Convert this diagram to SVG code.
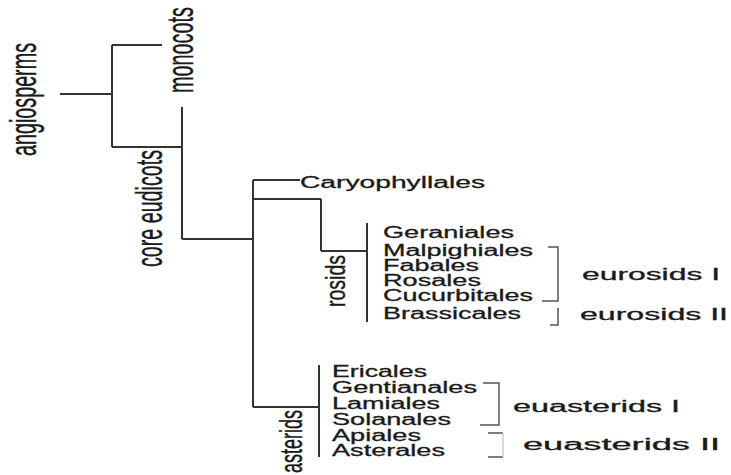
<svg xmlns="http://www.w3.org/2000/svg" width="731" height="475" viewBox="0 0 731 475">
<style>
.l{stroke:#333;stroke-width:2;fill:none}
.b{stroke:#555;stroke-width:1.5;fill:none}
.bf{stroke:#ccc;stroke-width:1.5;fill:none}
text{font-family:"Liberation Sans",Arial,sans-serif;fill:#1a1a1a;stroke:#1a1a1a;stroke-width:0.3}
.h{font-size:16px}
.v{font-size:36px;stroke-width:0.4}
</style>
<rect width="731" height="475" fill="#fff"/>
<g id="connectors">
<path class="l" d="M60,94H112M112,45V147M112,45H162M112,147H182M182,107V239M182,239H253M253,180V407M253,180H300M253,199H321M321,199V251M321,251H367M367,223V322M253,407H319M319,365V457"/>
<path class="b" d="M548,247H558V301H542M550,325H558V308"/>
<path class="b" d="M483,383H499V425H480"/>
<path class="b" d="M488,433H503M488,457H503"/>
<path class="bf" d="M503,433V457"/>
</g>
<g id="angiosperms"><text class="v" transform="translate(36,156) rotate(-90)" textLength="113" lengthAdjust="spacingAndGlyphs">angiosperms</text></g>
<g id="monocots"><text class="v" transform="translate(193,93) rotate(-90)" textLength="86" lengthAdjust="spacingAndGlyphs">monocots</text></g>
<g id="core-eudicots"><text class="v" style="font-size:37px" transform="translate(162,267) rotate(-90)" textLength="117" lengthAdjust="spacingAndGlyphs">core eudicots</text></g>
<g id="rosids"><text class="v" style="font-size:28px" transform="translate(345,307) rotate(-90)" textLength="52" lengthAdjust="spacingAndGlyphs">rosids</text></g>
<g id="asterids"><text class="v" style="font-size:32px" transform="translate(302,473) rotate(-90)" textLength="63" lengthAdjust="spacingAndGlyphs">asterids</text></g>
<g id="caryophyllales"><text class="h" x="300" y="188" textLength="185" lengthAdjust="spacingAndGlyphs">Caryophyllales</text></g>
<g id="rosid-orders">
<text class="h" x="383" y="238" textLength="131" lengthAdjust="spacingAndGlyphs">Geraniales</text>
<text class="h" x="383" y="256" textLength="150" lengthAdjust="spacingAndGlyphs">Malpighiales</text>
<text class="h" x="383" y="271" textLength="96" lengthAdjust="spacingAndGlyphs">Fabales</text>
<text class="h" x="383" y="286" textLength="98" lengthAdjust="spacingAndGlyphs">Rosales</text>
<text class="h" x="383" y="301" textLength="150" lengthAdjust="spacingAndGlyphs">Cucurbitales</text>
<text class="h" x="383" y="319" textLength="138" lengthAdjust="spacingAndGlyphs">Brassicales</text>
</g>
<g id="eurosids-I"><text class="h" x="582" y="280" textLength="138" lengthAdjust="spacingAndGlyphs">eurosids I</text></g>
<g id="eurosids-II"><text class="h" x="580" y="320" textLength="148" lengthAdjust="spacingAndGlyphs">eurosids II</text></g>
<g id="asterid-orders">
<text class="h" x="332" y="377" textLength="95" lengthAdjust="spacingAndGlyphs">Ericales</text>
<text class="h" x="332" y="393" textLength="145" lengthAdjust="spacingAndGlyphs">Gentianales</text>
<text class="h" x="332" y="409" textLength="108" lengthAdjust="spacingAndGlyphs">Lamiales</text>
<text class="h" x="332" y="425" textLength="119" lengthAdjust="spacingAndGlyphs">Solanales</text>
<text class="h" x="332" y="441" textLength="89" lengthAdjust="spacingAndGlyphs">Apiales</text>
<text class="h" x="332" y="456" textLength="113" lengthAdjust="spacingAndGlyphs">Asterales</text>
</g>
<g id="euasterids-I"><text class="h" x="513" y="412" textLength="167" lengthAdjust="spacingAndGlyphs">euasterids I</text></g>
<g id="euasterids-II"><text class="h" x="523" y="450" textLength="197" lengthAdjust="spacingAndGlyphs">euasterids II</text></g>
</svg>
